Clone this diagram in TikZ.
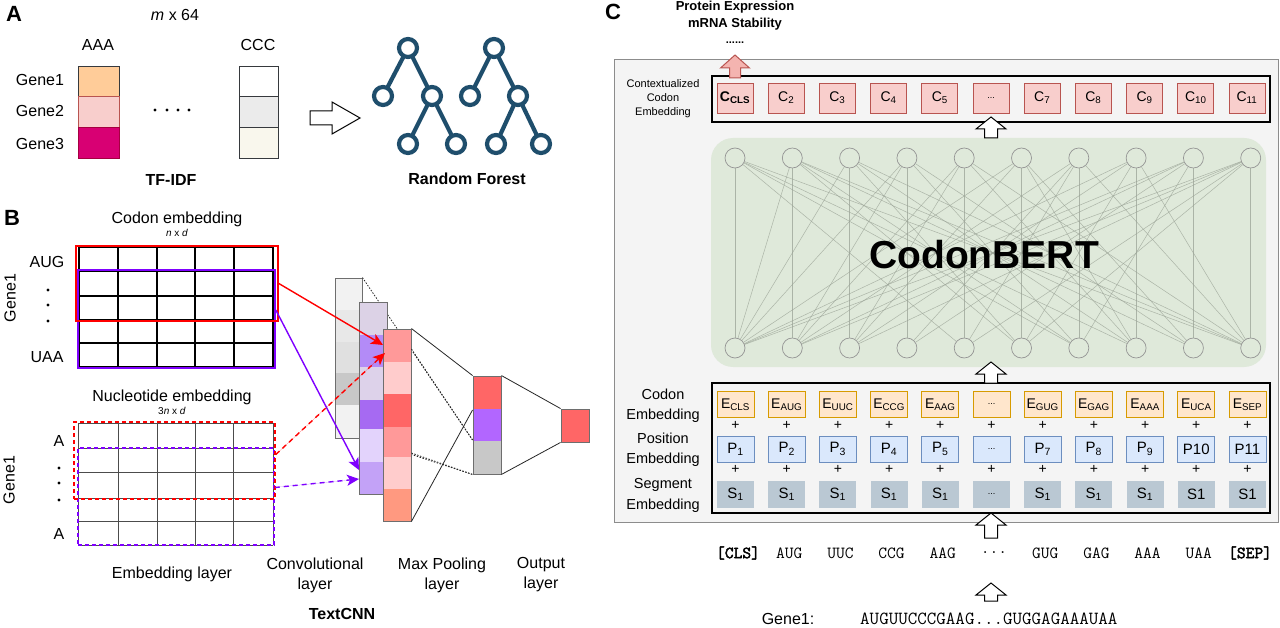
\documentclass[tikz,border=0pt]{standalone}
\usepackage{fontspec}
\setmainfont{Liberation Sans}
\setmonofont{Latin Modern Mono}[BoldFont={Latin Modern Mono}, BoldFeatures={FakeBold=2.5}]
\usetikzlibrary{arrows.meta}
\pgfdeclarelayer{bg}
\pgfsetlayers{bg,main}
\newcommand\fsz[2]{\fontsize{#1pt}{#2pt}\selectfont}
\newcommand\tdots{...}
\newcommand\bdots{{\fsz{9}{10}...}}
% x, ytip, ybase, headw, bodyw, headlen, style
\newcommand\blockup[7]{%
  \draw[#7] ({#1-#5/2},#3) -- ({#1-#5/2},{#2+#6}) -- ({#1-#4/2},{#2+#6}) -- (#1,#2) -- ({#1+#4/2},{#2+#6}) -- ({#1+#5/2},{#2+#6}) -- ({#1+#5/2},#3) -- cycle;}
\definecolor{treeblue}{RGB}{31,78,108}
\definecolor{peach}{HTML}{FFCC99}
\definecolor{pinkc}{HTML}{F8CECC}
\definecolor{pinkd}{HTML}{B85450}
\definecolor{magentaa}{HTML}{D80073}
\definecolor{magentab}{HTML}{A50040}
\definecolor{dgray}{HTML}{36393D}
\definecolor{lgraya}{HTML}{EBEBEB}
\definecolor{cream}{HTML}{F9F7ED}
\definecolor{redl}{HTML}{FF0000}
\definecolor{purp}{HTML}{7F00FF}
\definecolor{orf}{HTML}{FFE6CC}
\definecolor{ord}{HTML}{D79B00}
\definecolor{bluf}{HTML}{DAE8FC}
\definecolor{blud}{HTML}{6C8EBF}
\definecolor{segf}{HTML}{BAC8D3}
\definecolor{panelf}{HTML}{F4F4F4}
\definecolor{paneld}{HTML}{8C8C8C}
\definecolor{greenf}{HTML}{DFE9DA}
\definecolor{netl}{HTML}{9AA396}
\definecolor{pinkarr}{HTML}{F4B4B0}
\definecolor{colborder}{HTML}{6E6E6E}
\definecolor{outred}{HTML}{FF6666}
\tikzset{
  lbl/.style={font=\fsz{16}{20}, inner sep=0pt, align=center},
  blbl/.style={font=\fsz{16}{20}\bfseries, inner sep=0pt, align=center},
  panel/.style={font=\fsz{22}{24}\bfseries, inner sep=0pt},
  tree/.style={circle, draw=treeblue, line width=4.2pt, fill=white, minimum size=18pt, inner sep=0pt},
  treeedge/.style={draw=treeblue, line width=4.2pt},
  cellA/.style={rectangle, inner sep=0pt, minimum width=41pt, minimum height=31pt, line width=0.9pt},
  cellC/.style={rectangle, inner sep=0pt, minimum width=39pt, minimum height=31pt, line width=0.9pt, draw=dgray},
  gridline/.style={line width=1.3pt, draw=black},
  ngridline/.style={line width=1pt, draw=black!70},
  frame/.style={rectangle, inner sep=0pt, line width=1.6pt},
  dashframe/.style={rectangle, inner sep=0pt, line width=1.6pt, dash pattern=on 4pt off 3pt},
  arr/.style={line width=1.4pt, -{Stealth[length=12pt,width=11pt,inset=3pt]}},
  darr/.style={line width=1.4pt, dash pattern=on 5pt off 4pt, -{Stealth[length=12pt,width=11pt,inset=3pt]}},
  colframe/.style={rectangle, inner sep=0pt, draw=colborder, line width=0.9pt},
  thinl/.style={line width=0.8pt, draw=black!85},
  dotl/.style={line width=0.8pt, draw=black!85, dash pattern=on 1.5pt off 1.5pt},
  cbox/.style={rectangle, inner sep=0pt, minimum width=36pt, minimum height=30pt, fill=pinkc, draw=pinkd, line width=0.9pt, font=\fsz{14}{16}},
  ebox/.style={rectangle, inner sep=0pt, minimum width=37pt, minimum height=26pt, fill=orf, draw=ord, line width=0.9pt, font=\fsz{14}{16}},
  pbox/.style={rectangle, inner sep=0pt, minimum width=37pt, minimum height=26pt, fill=bluf, draw=blud, line width=0.9pt, font=\fsz{15}{17}},
  sbox/.style={rectangle, inner sep=0pt, minimum width=37pt, minimum height=27pt, fill=segf, font=\fsz{15}{17}},
  plus/.style={inner sep=0pt, font=\fsz{14}{16}},
  neuron/.style={circle, inner sep=0pt, minimum size=20pt, fill=greenf, draw=black!42, line width=0.7pt},
  netline/.style={draw=netl, line width=0.5pt, opacity=0.75},
  smlbl/.style={font=\fsz{11}{14}, inner sep=0pt, align=center},
  mdlbl/.style={font=\fsz{14.5}{20.5}, inner sep=0pt, align=center},
  tok/.style={font=\fsz{17}{19}\ttfamily, inner sep=0pt},
  hollow/.style={fill=white, draw=black, line width=1pt},
}
\begin{document}
\begin{tikzpicture}[x=1pt,y=-1pt]
\useasboundingbox (0,0) rectangle (1280,628);
\begin{pgfonlayer}{bg}
\fill[white] (0,0) rectangle (1280,628);
\end{pgfonlayer}

%%%%%%%%%%%%%%%% Panel A
\node[panel] (pA) at (14,14) {A};
\node[lbl] (mx) at (175,15) {\textit{m} x 64};
\node[lbl] (aaa) at (98,45) {AAA};
\node[lbl] (ccc) at (258,45) {CCC};
\node[cellA, fill=peach, draw=dgray] (a1) at (98.5,81.5) {};
\node[cellA, fill=pinkc, draw=pinkd] (a2) at (98.5,112) {};
\node[cellA, fill=magentaa, draw=magentab] (a3) at (98.5,143) {};
\node[cellC, fill=white] (c1) at (258.5,81.5) {};
\node[cellC, fill=lgraya] (c2) at (258.5,112) {};
\node[cellC, fill=cream] (c3) at (258.5,143) {};
\node[lbl] (g1) at (40,80) {Gene1};
\node[lbl] (g2) at (40,111) {Gene2};
\node[lbl] (g3) at (40,144) {Gene3};
\foreach \x in {155,167,178,189} \fill (\x,110) circle (1.6);
\node[blbl] (tfidf) at (171,180) {TF-IDF};
\draw[hollow] (310,111) -- (332,111) -- (332,102) -- (360,118) -- (332,134) -- (332,125) -- (310,125) -- cycle;
% trees
\node[tree] (t1r) at (408,48) {};
\node[tree] (t1l) at (383,96) {};
\node[tree] (t1m) at (432,96) {};
\node[tree] (t1a) at (408,144) {};
\node[tree] (t1b) at (456,144) {};
\node[tree] (t2r) at (494,48) {};
\node[tree] (t2l) at (470,96) {};
\node[tree] (t2m) at (518,96) {};
\node[tree] (t2a) at (496,144) {};
\node[tree] (t2b) at (541,144) {};
\begin{pgfonlayer}{bg}
\draw[treeedge] (t1l.center) -- (t1r.center) -- (t1m.center) -- (t1a.center);
\draw[treeedge] (t1m.center) -- (t1b.center);
\draw[treeedge] (t2l.center) -- (t2r.center) -- (t2m.center) -- (t2a.center);
\draw[treeedge] (t2m.center) -- (t2b.center);
\end{pgfonlayer}
\node[blbl] (rf) at (467,179) {Random Forest};

%%%%%%%%%%%%%%%% Panel B
\node[panel] (pB) at (12,218) {B};
\node[lbl] (ce) at (177,219) {Codon embedding};
\node[font=\fsz{10}{12}, inner sep=0pt] (ced) at (177,233) {\textit{n} x \textit{d}};
\foreach \x in {79,118,157,195,234,273} \draw[gridline] (\x,247) -- (\x,367);
\foreach \y in {247,271,296,320,343,367} \draw[gridline] (79,\y) -- (273,\y);
\node[frame, draw=purp, minimum width=197pt, minimum height=98pt] (cpur) at (176.5,319) {};
\node[frame, draw=redl, minimum width=202pt, minimum height=75pt] (cred) at (177,283.5) {};
\node[lbl] (aug) at (47,262) {AUG};
\node[lbl] (uaa) at (47,357) {UAA};
\foreach \y in {290,305,321} \fill (48,\y) circle (1.7);
\node[lbl, rotate=90] (gb1) at (10,298) {Gene1};

\node[lbl] (ne) at (172,397) {Nucleotide embedding};
\node[font=\fsz{10}{12}, inner sep=0pt] (ned) at (172,411) {3\textit{n} x \textit{d}};
\foreach \x in {78,118,157,195,233,273} \draw[ngridline] (\x,423) -- (\x,545);
\foreach \y in {423,448,472,498,521,545} \draw[ngridline] (78,\y) -- (273,\y);
\node[dashframe, draw=purp, minimum width=196pt, minimum height=97pt] (npur) at (176,496.5) {};
\node[dashframe, draw=redl, minimum width=201pt, minimum height=77pt] (nred) at (174.5,460.5) {};
\node[lbl] (na1) at (59,441) {A};
\node[lbl] (na2) at (59,534) {A};
\foreach \y in {468,483,500} \fill (59,\y) circle (1.7);
\node[lbl, rotate=90] (gb2) at (9,480) {Gene1};
\node[lbl] (lemb) at (172,574) {Embedding layer};

% convolution columns
\foreach \ya/\yb/\c in {278/310/F2F2F2, 310/342/E8E8E8, 342/373/E0E0E0, 373/405/C8C8C8, 405/438/F2F2F2}{
  \definecolor{tmpc}{HTML}{\c}\fill[tmpc] (335,\ya) rectangle (362,\yb);}
\node[colframe, minimum width=27pt, minimum height=160pt] (convg) at (348.5,358) {};
\node[colframe, minimum width=28pt, minimum height=98pt, draw=none] (pool) at (487,425) {};
\draw[dotl] (convg.north east) -- (pool.west |- 0,440);
\draw[dotl] (convg.south east) -- (pool.south west);
\foreach \ya/\yb/\c in {302/335/DCD2E6, 335/367/B38BF7, 367/400/DDD2EA, 400/429/A66AF2, 429/462/E3D3FC, 462/494/C3A2F7}{
  \definecolor{tmpc}{HTML}{\c}\fill[tmpc] (359,\ya) rectangle (387,\yb);}
\node[colframe, minimum width=28pt, minimum height=192pt] (convp) at (373,398) {};
\foreach \ya/\yb/\c in {329/362/FF9999, 362/394/FFCCCC, 394/427/FF6666, 427/457/FF9999, 457/489/FFCCCC, 489/521/FF9980}{
  \definecolor{tmpc}{HTML}{\c}\fill[tmpc] (383,\ya) rectangle (411,\yb);}
\node[colframe, minimum width=28pt, minimum height=192pt] (convr) at (397,425) {};
\draw[dotl] (convr.east |- 0,349) -- (pool.west |- 0,440);
\draw[dotl] (convr.east |- 0,453) -- (pool.south west);
\draw[thinl] (convr.north east) -- (pool.north west);
\draw[thinl] (convr.south east) -- (pool.west |- 0,410);
\foreach \ya/\yb/\c in {376/409/FF6666, 409/441/B266FF, 441/474/C8C8C8}{
  \definecolor{tmpc}{HTML}{\c}\fill[tmpc] (473,\ya) rectangle (501,\yb);}
\node[colframe, minimum width=28pt, minimum height=98pt] (poolf) at (487,425) {};
\node[colframe, fill=outred, minimum width=28pt, minimum height=33pt] (outp) at (575,425.5) {};
\draw[thinl] (poolf.north east) -- (outp.north west);
\draw[thinl] (poolf.south east) -- (outp.south west);

% arrows
\coordinate (tipr1) at (383,345);
\coordinate (tipr2) at (385,353);
\coordinate (tipp1) at (359,470);
\coordinate (tipp2) at (359,479);
\draw[arr, draw=redl, fill=redl] (cred.east) -- (tipr1);
\draw[arr, draw=purp, fill=purp] ([yshift=9pt]cpur.east) -- (tipp1);
\draw[darr, draw=redl, fill=redl] ([yshift=6pt]nred.east) -- (tipr2);
\draw[darr, draw=purp, fill=purp] ([yshift=9pt]npur.east) -- (tipp2);

\node[lbl] (lconv) at (315,575) {Convolutional\\layer};
\node[lbl] (lmax) at (442,575) {Max Pooling\\layer};
\node[lbl] (lout) at (541,575) {Output\\layer};
\node[blbl] (ltcnn) at (342,614) {TextCNN};

%%%%%%%%%%%%%%%% Panel C
\node[panel] (pC) at (613,12) {C};
\node[font=\fsz{13}{17}\bfseries, inner sep=0pt, align=center] (pe) at (735,16) {Protein Expression\\mRNA Stability};
\node[font=\fsz{11}{12}\bfseries, inner sep=0pt] (dots) at (735,43) {\tdots\tdots};
\node[rectangle, inner sep=0pt, draw=paneld, fill=panelf, line width=0.9pt, minimum width=664pt, minimum height=463pt] (outer) at (946,290.5) {};
\node[rectangle, inner sep=0pt, draw=black, line width=1.5pt, minimum width=558pt, minimum height=46pt] (ctxbox) at (991,99) {};
\node[rectangle, inner sep=0pt, draw=black, line width=1.5pt, minimum width=558pt, minimum height=130pt] (embbox) at (991,448) {};
\node[rectangle, inner sep=0pt, fill=greenf, rounded corners=22pt, minimum width=555pt, minimum height=229pt] (green) at (988.5,252.5) {};
\foreach \k in {0,1,2,3,4,5,6,7,8,9}{
  \node[neuron] (nt\k) at ({735+57.3*\k},158) {};
  \node[neuron] (nb\k) at ({735+57.3*\k},348) {};
}
\begin{scope}
\clip (712,130) rectangle (1266,370);
\foreach \a/\b in {0/0,0/4,0/6,0/7,0/9,1/1,1/0,1/5,1/6,1/8,1/9,2/2,2/5,2/7,2/9,3/3,3/0,3/1,3/6,3/8,4/4,4/1,4/7,4/9,5/5,5/0,5/2,5/8,6/6,6/1,6/3,6/4,6/9,7/7,7/0,7/2,7/5,8/8,8/0,8/1,8/3,8/6,9/9,9/0,9/1,9/2,9/4,9/5,2/0,7/9,4/2,5/7}
  \draw[netline] (nt\a) -- (nb\b);
\end{scope}
\node[font=\fsz{39}{42}\bfseries, inner sep=0pt] (cbert) at (984,255) {CodonBERT};

\node[smlbl] (lctx) at (663,99) {Contextualized\\Codon\\Embedding};
\node[mdlbl] (lcod) at (663,405.5) {Codon\\Embedding};
\node[mdlbl] (lpos) at (663,450) {Position\\Embedding};
\node[mdlbl] (lseg) at (663,495.5) {Segment\\Embedding};

\foreach \t [count=\i from 0] in {{\textbf{C\textsubscript{CLS}}}, C\textsubscript{2}, C\textsubscript{3}, C\textsubscript{4}, C\textsubscript{5}, \bdots, C\textsubscript{7}, C\textsubscript{8}, C\textsubscript{9}, C\textsubscript{10}, C\textsubscript{11}}
  \node[cbox] (cc\i) at ({735+51.2*\i},98) {\t};
\foreach \t [count=\i from 0] in {E\textsubscript{CLS}, E\textsubscript{AUG}, E\textsubscript{UUC}, E\textsubscript{CCG}, E\textsubscript{AAG}, \bdots, E\textsubscript{GUG}, E\textsubscript{GAG}, E\textsubscript{AAA}, E\textsubscript{UCA}, E\textsubscript{SEP}}{
  \node[ebox] (ee\i) at ({735.5+51.2*\i},404.5) {\t};
  \node[plus] (pa\i) at ({735.5+51.2*\i},425.5) {+};
  \node[plus] (pb\i) at ({735.5+51.2*\i},469.5) {+};}
\foreach \t [count=\i from 0] in {P\textsubscript{1}, P\textsubscript{2}, P\textsubscript{3}, P\textsubscript{4}, P\textsubscript{5}, \bdots, P\textsubscript{7}, P\textsubscript{8}, P\textsubscript{9}, P10, P11}
  \node[pbox] (pp\i) at ({735.5+51.2*\i},449) {\t};
\foreach \t [count=\i from 0] in {S\textsubscript{1}, S\textsubscript{1}, S\textsubscript{1}, S\textsubscript{1}, S\textsubscript{1}, \bdots, S\textsubscript{1}, S\textsubscript{1}, S\textsubscript{1}, S1, S1}
  \node[sbox] (ss\i) at ({735.5+51.2*\i},494.5) {\t};

\foreach \t [count=\i from 0] in {\textbf{[CLS]}, AUG, UUC, CCG, AAG, \tdots, GUG, GAG, AAA, UAA, \textbf{[SEP]}}
  \node[tok] (tk\i) at ({738+51.2*\i},553) {\t};
\node[font=\fsz{16}{18}, inner sep=0pt] (gl) at (788,619) {Gene1:};
\node[font=\fsz{18.5}{20}\ttfamily, inner sep=0pt, anchor=west] (gseq) at (860,619) {AUGUUCCCGAAG\tdots GUGGAGAAAUAA};

\blockup{735}{55}{78}{29}{11}{13}{fill=pinkarr, draw=pinkd, line width=1pt}
\blockup{991}{117}{138}{30}{13}{12}{hollow}
\blockup{991}{362}{383}{30}{13}{12}{hollow}
\blockup{991}{513}{538}{30}{13}{12}{hollow}
\blockup{991}{583}{601}{30}{13}{12}{hollow}
\end{tikzpicture}
\end{document}
